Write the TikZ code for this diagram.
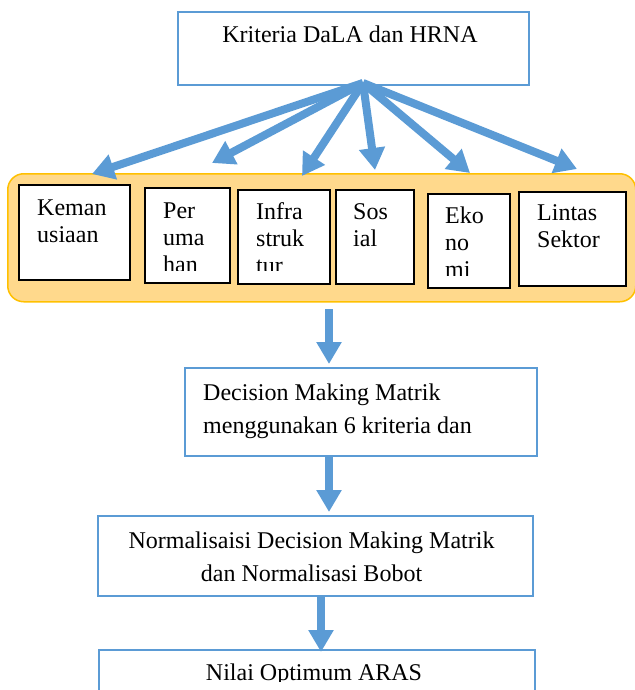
\documentclass[tikz,border=0pt]{standalone}
\usepackage{fontspec}
\setmainfont{Liberation Serif}
\usetikzlibrary{arrows.meta}
\definecolor{myblue}{RGB}{91,155,213}
\definecolor{bandfill}{RGB}{255,217,140}
\definecolor{bandline}{RGB}{255,192,0}
\begin{document}
\begin{tikzpicture}[x=1pt,y=-1pt,
  bluebox/.style={draw=myblue, fill=white, line width=2pt, inner sep=0pt, anchor=north west},
  blackbox/.style={draw=black, fill=white, line width=2.2pt, inner sep=0pt, anchor=north west},
  fatarrow/.style={draw=myblue, line width=8pt, -{Triangle[length=22pt,width=25pt]}},
  vfatarrow/.style={draw=myblue, line width=7.5pt, -{Triangle[length=22pt,width=24pt]}},
  smalltxt/.style={font=\fontsize{24}{27}\selectfont, inner sep=0pt, anchor=base west, align=left},
  bigtxt/.style={font=\fontsize{24}{33}\selectfont, inner sep=0pt, anchor=base west, align=left},
  bigctxt/.style={font=\fontsize{24}{33}\selectfont, inner sep=0pt, anchor=base, align=center}]
\useasboundingbox (0,0) rectangle (634,690);

% top box
\node[bluebox, minimum width=351pt, minimum height=73pt] (top) at (177,11) {};
\node[bigctxt] (ttop) at (350,43) {Kriteria DaLA dan HRNA};

% band
\node[draw=bandline, fill=bandfill, line width=1.5pt, rounded corners=16pt,
      minimum width=628pt, minimum height=128pt, anchor=north west, inner sep=0pt] (band) at (7,173) {};

% small boxes
\node[blackbox, minimum width=111pt, minimum height=95pt] (k1) at (18,184) {};
\node[blackbox, minimum width=85pt, minimum height=95pt] (k2) at (144,187) {};
\node[blackbox, minimum width=92pt, minimum height=94pt] (k3) at (237,189) {};
\node[blackbox, minimum width=78pt, minimum height=94pt] (k4) at (335,189) {};
\node[blackbox, minimum width=82pt, minimum height=94pt] (k5) at (427,193) {};
\node[blackbox, minimum width=107pt, minimum height=94pt] (k6) at (518,191) {};

% multi-line nodes: the base anchor sits on the last line's baseline
\begin{scope}\clip (20,186) rectangle (127,268);
\node[smalltxt] (t1) at (37,242) {Keman\\usiaan};\end{scope}
\begin{scope}\clip (146,189) rectangle (227,270);
\node[smalltxt] (t2) at (163,272) {Per\\uma\\han};\end{scope}
\begin{scope}\clip (239,191) rectangle (327,270);
\node[smalltxt] (t3) at (256,273) {Infra\\struk\\tur};\end{scope}
\begin{scope}\clip (337,191) rectangle (411,272);
\node[smalltxt] (t4) at (353,246) {Sos\\ial};\end{scope}
\begin{scope}\clip (429,195) rectangle (507,275);
\node[smalltxt] (t5) at (445,277) {Eko\\no\\mi};\end{scope}
\begin{scope}\clip (520,193) rectangle (623,274);
\node[smalltxt] (t6) at (537,247) {Lintas\\Sektor};\end{scope}

% arrows from top box
\coordinate (src) at (363,83);
\coordinate (a1) at (92,174);
\coordinate (a2) at (212,163);
\coordinate (a3) at (302,176);
\coordinate (a4) at (375,170);
\coordinate (a5) at (470,173);
\coordinate (a6) at (577,169);
\foreach \i in {1,...,6}{\draw[fatarrow] (src) -- (a\i);}

% lower boxes
\node[bluebox, minimum width=352pt, minimum height=88pt] (dm) at (184,367) {};
\node[bigtxt] (tdm) at (203,433) {Decision Making Matrik\\menggunakan 6 kriteria dan};

\node[bluebox, minimum width=435pt, minimum height=80pt] (nm) at (97,515) {};
\node[bigctxt] (tnm) at (311.5,581) {Normalisaisi Decision Making Matrik\\dan Normalisasi Bobot};

\node[bluebox, minimum width=436pt, minimum height=70pt] (na) at (98,649) {};
\begin{scope}\clip (100,651) rectangle (532,681);
\node[bigctxt] (tna) at (314,680) {Nilai Optimum ARAS};\end{scope}

% vertical arrows
\coordinate (v1s) at (329,309); \coordinate (v1e) at (329,364);
\coordinate (v2s) at (329,457); \coordinate (v2e) at (329,512);
\coordinate (v3s) at (321,597); \coordinate (v3e) at (321,652);
\draw[vfatarrow] (v1s) -- (v1e);
\draw[vfatarrow] (v2s) -- (v2e);
\draw[vfatarrow] (v3s) -- (v3e);
\end{tikzpicture}
\end{document}
